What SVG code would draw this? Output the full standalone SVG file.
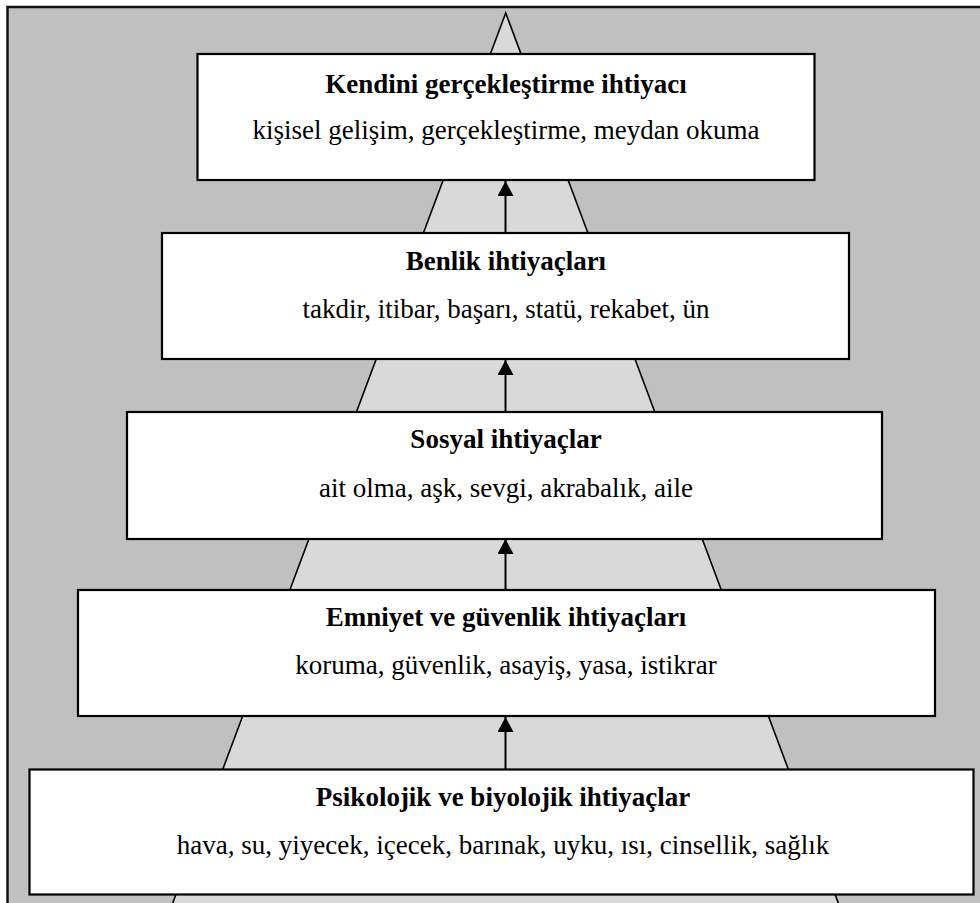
<svg xmlns="http://www.w3.org/2000/svg" width="980" height="903" viewBox="0 0 980 903">
  <defs>
    <style>
      .frame { fill: #c0c0c0; stroke: #111; stroke-width: 2.5; }
      .pyramid { fill: #d9d9d9; stroke: #000; stroke-width: 1.6; }
      .box { fill: #fff; stroke: #000; stroke-width: 2.2; }
      text { font-family: "Liberation Serif", "Times New Roman", serif; font-size: 27px; text-anchor: middle; fill: #000; }
      .title { font-weight: bold; }
      .link { stroke: #000; stroke-width: 2; fill: none; }
    </style>
    <marker id="head" markerUnits="userSpaceOnUse" markerWidth="16" markerHeight="16" refX="15" refY="8" orient="auto">
      <path d="M0,0 L15,8 L0,16 Z" fill="#000"/>
    </marker>
  </defs>

  <!-- grey panel -->
  <rect class="frame" x="7.5" y="7" width="990" height="920"/>

  <!-- pyramid silhouette behind the levels -->
  <polygon class="pyramid" points="505.7,13 166,921 845,921"/>

  <!-- upward links between levels -->
  <g id="connectors">
    <line class="link" x1="505.5" y1="233" x2="505.5" y2="181" marker-end="url(#head)"/>
    <line class="link" x1="505.5" y1="412" x2="505.5" y2="360" marker-end="url(#head)"/>
    <line class="link" x1="505.5" y1="591" x2="505.5" y2="539" marker-end="url(#head)"/>
    <line class="link" x1="505.5" y1="769" x2="505.5" y2="717" marker-end="url(#head)"/>
  </g>

  <g id="level5">
    <rect class="box" x="197.5" y="54" width="617" height="126"/>
    <text class="title" x="506" y="93">Kendini gerçekleştirme ihtiyacı</text>
    <text class="items" x="506" y="139">kişisel gelişim, gerçekleştirme, meydan okuma</text>
  </g>

  <g id="level4">
    <rect class="box" x="162" y="233" width="687" height="126"/>
    <text class="title" x="506" y="270">Benlik ihtiyaçları</text>
    <text class="items" x="506" y="318">takdir, itibar, başarı, statü, rekabet, ün</text>
  </g>

  <g id="level3">
    <rect class="box" x="127" y="412" width="755" height="127"/>
    <text class="title" x="506" y="448">Sosyal ihtiyaçlar</text>
    <text class="items" x="506" y="497">ait olma, aşk, sevgi, akrabalık, aile</text>
  </g>

  <g id="level2">
    <rect class="box" x="78" y="590" width="857" height="126"/>
    <text class="title" x="506" y="626">Emniyet ve güvenlik ihtiyaçları</text>
    <text class="items" x="506" y="674">koruma, güvenlik, asayiş, yasa, istikrar</text>
  </g>

  <g id="level1">
    <rect class="box" x="29.5" y="769.5" width="944" height="125"/>
    <text class="title" x="503" y="806">Psikolojik ve biyolojik ihtiyaçlar</text>
    <text class="items" x="503" y="854">hava, su, yiyecek, içecek, barınak, uyku, ısı, cinsellik, sağlık</text>
  </g>
</svg>
